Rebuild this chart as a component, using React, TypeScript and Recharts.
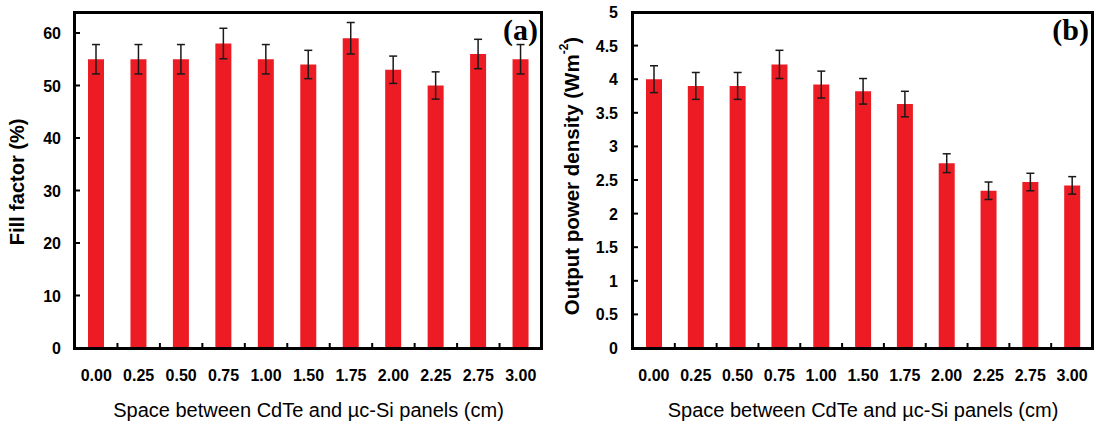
import { BarChart, Bar, XAxis, YAxis, ErrorBar } from "recharts";

const spacings = ["0.00", "0.25", "0.50", "0.75", "1.00", "1.50", "1.75", "2.00", "2.25", "2.75", "3.00"];
const fillFactor = [55, 55, 55, 58, 55, 54, 59, 53, 50, 56, 55];
const fillFactorErr = [2.8, 2.8, 2.8, 2.9, 2.8, 2.7, 3.0, 2.6, 2.6, 2.8, 2.8];
const powerDensity = [4.0, 3.9, 3.9, 4.22, 3.92, 3.82, 3.63, 2.75, 2.34, 2.47, 2.42];
const powerDensityErr = [0.2, 0.2, 0.2, 0.21, 0.2, 0.19, 0.19, 0.14, 0.13, 0.13, 0.13];
const fillFactorTicks = [0, 10, 20, 30, 40, 50, 60];
const powerTicks = [0, 0.5, 1, 1.5, 2, 2.5, 3, 3.5, 4, 4.5, 5];

const xTitle = "Space between CdTe and µc-Si panels (cm)";

const RED = "#ED1C24";
const SANS = "'Liberation Sans', Arial, sans-serif";
const SERIF = "'Liberation Serif', 'Times New Roman', serif";
const CHART_W = 548;
const CHART_H = 425;
const TOP = 12;
const X_AXIS_H = 77;
const BOTTOM = CHART_H - X_AXIS_H;

const ffData = spacings.map((s, i) => ({ space: s, value: fillFactor[i], err: fillFactorErr[i] }));
const pdData = spacings.map((s, i) => ({ space: s, value: powerDensity[i], err: powerDensityErr[i] }));

// x tick: label below + small inward tick at the left edge of each category (except the first)
const makeXTick = (band: number) => (props: any) => {
  const { x, y, payload } = props;
  return (
    <g>
      {payload.index > 0 && (
        <line x1={x - band / 2} x2={x - band / 2} y1={y} y2={y - 5} stroke="#000" strokeWidth={2} />
      )}
      <text x={x} y={y + 33} textAnchor="middle" fontFamily={SANS} fontWeight="bold" fontSize={16} fill="#000">
        {payload.value}
      </text>
    </g>
  );
};

// y tick: inward tick + label on the left
const makeYTick = (gap: number) => (props: any) => {
  const { x, y, payload } = props;
  return (
    <g>
      <line x1={x} x2={x + 5} y1={y} y2={y} stroke="#000" strokeWidth={2} />
      <text x={x - gap} y={y + 6} textAnchor="end" fontFamily={SANS} fontWeight="bold" fontSize={16} fill="#000">
        {payload.value}
      </text>
    </g>
  );
};

// x title and panel tag
const makeXLabel = (tag: string) => ({ viewBox }: any) => {
  const { x, width } = viewBox;
  return (
    <g>
      <text x={x + width / 2} y={417} textAnchor="middle" fontFamily={SANS} fontSize={20} fill="#000">
        {xTitle}
      </text>
      <text x={x + width - 4} y={TOP + 28} textAnchor="end" fontFamily={SERIF} fontWeight="bold" fontSize={30} fill="#000">
        {tag}
      </text>
    </g>
  );
};

// box around the plot area (HTML overlay, the svg version did not show up)
const FrameBox = ({ left, right }: { left: number; right: number }) => {
  const x2 = CHART_W - right;
  return (
    <div
      style={{
        position: "absolute",
        left: left - 2,
        top: TOP - 1,
        width: x2 + 1 - (left - 2),
        height: BOTTOM + 2 - (TOP - 1),
        boxSizing: "border-box",
        borderTop: "3px solid #000",
        borderRight: "3px solid #000",
        borderLeft: "3px solid #000",
        borderBottom: "3px solid #000",
        pointerEvents: "none",
      }}
    />
  );
};

function FillFactorChart() {
  return (
    <div style={{ position: "relative", width: CHART_W, height: CHART_H }}>
      <BarChart width={CHART_W} height={CHART_H} data={ffData} margin={{ top: TOP, right: 6, bottom: 0, left: 0 }} barSize={16}>
        <XAxis
          dataKey="space"
          height={X_AXIS_H}
          axisLine={false}
          tickLine={false}
          tickSize={0}
          tickMargin={0}
          interval={0}
          tick={makeXTick(467 / 11)}
          label={{ content: makeXLabel("(a)") }}
        />
        <YAxis
          width={75}
          domain={[0, 64]}
          ticks={fillFactorTicks}
          allowDataOverflow
          axisLine={false}
          tickLine={false}
          tickSize={0}
          tickMargin={0}
          tick={makeYTick(14)}
          label={{
            content: () => (
              <text
                x={17}
                y={182}
                transform="rotate(-90 17 182)"
                textAnchor="middle"
                dominantBaseline="central"
                fontFamily={SANS}
                fontWeight="bold"
                fontSize={20}
                fill="#000"
              >
                Fill factor (%)
              </text>
            ),
          }}
        />
        <Bar dataKey="value" fill={RED} isAnimationActive={false}>
          <ErrorBar dataKey="err" width={4} stroke="#1a1a1a" strokeWidth={1.5} direction="y" />
        </Bar>
      </BarChart>
      <FrameBox left={75} right={6} />
    </div>
  );
}

function PowerDensityChart() {
  return (
    <div style={{ position: "relative", width: CHART_W, height: CHART_H }}>
      <BarChart width={CHART_W} height={CHART_H} data={pdData} margin={{ top: TOP, right: 3, bottom: 0, left: 0 }} barSize={16}>
        <XAxis
          dataKey="space"
          height={X_AXIS_H}
          axisLine={false}
          tickLine={false}
          tickSize={0}
          tickMargin={0}
          interval={0}
          tick={makeXTick(460 / 11)}
          label={{ content: makeXLabel("(b)") }}
        />
        <YAxis
          width={85}
          domain={[0, 5]}
          ticks={powerTicks}
          axisLine={false}
          tickLine={false}
          tickSize={0}
          tickMargin={0}
          tick={makeYTick(15)}
          label={{
            content: () => (
              <text
                x={23}
                y={176}
                transform="rotate(-90 23 176)"
                textAnchor="middle"
                dominantBaseline="central"
                fontFamily={SANS}
                fontWeight="bold"
                fontSize={20.5}
                fill="#000"
              >
                Output power density (Wm
                <tspan baselineShift="super" fontSize={12}>-2</tspan>)
              </text>
            ),
          }}
        />
        <Bar dataKey="value" fill={RED} isAnimationActive={false}>
          <ErrorBar dataKey="err" width={4} stroke="#1a1a1a" strokeWidth={1.5} direction="y" />
        </Bar>
      </BarChart>
      <FrameBox left={85} right={3} />
    </div>
  );
}

export default function App() {
  return (
    <div style={{ position: "absolute", left: 0, top: 0, width: 1096, height: 425, background: "#fff", display: "flex" }}>
      <FillFactorChart />
      <PowerDensityChart />
    </div>
  );
}
